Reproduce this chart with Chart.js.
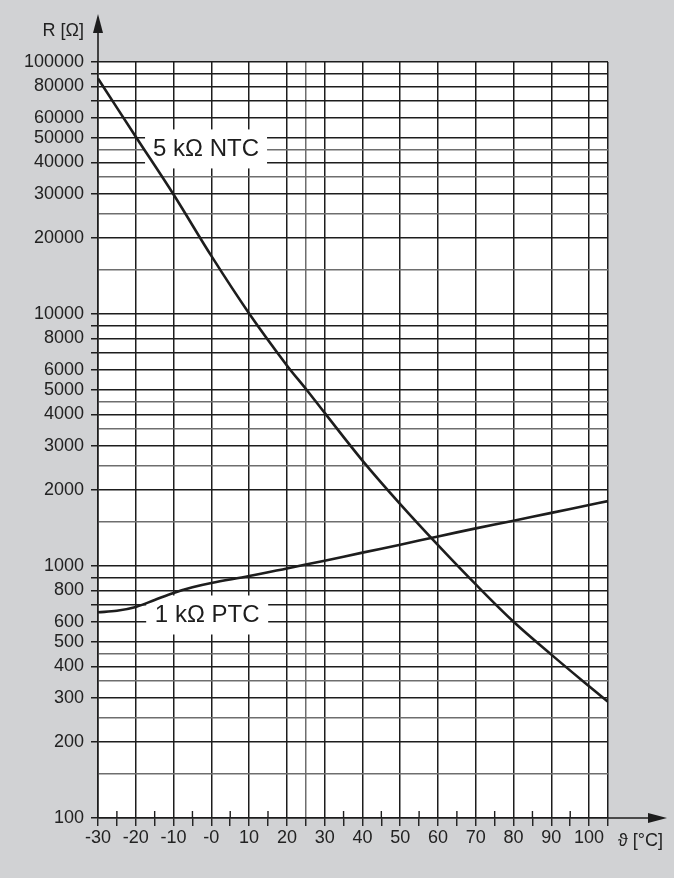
<!DOCTYPE html>
<html>
<head>
<meta charset="utf-8">
<script src="https://cdn.jsdelivr.net/npm/chart.js@4.4.1/dist/chart.umd.min.js"></script>
<style>
  html,body{margin:0;padding:0;background:#d1d2d4;}
  #wrap{width:674px;height:878px;position:relative;}
</style>
</head>
<body>
<div id="wrap"><canvas id="c" width="674" height="878"></canvas></div>
<script>
// ---- data ----
const ntcTemps = [-30, -20, -10, 0, 10, 20, 25, 30, 40, 50, 60, 70, 80, 90, 100, 105];
const ntcOhms  = [86000, 50500, 29800, 17000, 10050, 6250, 5050, 4050, 2620, 1760, 1210, 845, 601, 445, 333, 289];
const ptcTemps = [-30, -25, -20, -15, -10, -5, 0, 10, 20, 30, 40, 50, 60, 70, 80, 90, 100, 105];
const ptcOhms  = [655, 664, 688, 733, 782, 823, 856, 912, 978, 1050, 1130, 1215, 1310, 1410, 1513, 1625, 1745, 1810];
const xTickValues = [-30,-25,-20,-15,-10,-5,0,5,10,15,20,25,30,35,40,45,50,55,60,65,70,75,80,85,90,95,100,105];
const xTickLabels = {"-30":"-30","-20":"-20","-10":"-10","0":"-0","10":"10","20":"20","30":"30","40":"40","50":"50","60":"60","70":"70","80":"80","90":"90","100":"100"};
const yGridValues = [100,150,200,250,300,350,400,450,500,600,700,800,900,
                     1000,1500,2000,2500,3000,3500,4000,4500,5000,6000,7000,8000,9000,
                     10000,15000,20000,25000,30000,35000,40000,45000,50000,60000,70000,80000,90000,100000];
const yTickLabels = [100,200,300,400,500,600,800,1000,2000,3000,4000,5000,6000,8000,10000,20000,30000,40000,50000,60000,80000,100000];
const seriesNames = ["5 kΩ NTC", "1 kΩ PTC"];
const labelAnchors = [{x:-1.4, y:45400}, {x:-1.1, y:642}];
const yTitle = "R [Ω]";
const xTitle = "ϑ [°C]";

// ---- styles ----
const BG = '#d1d2d4';
const INK = '#1d1d1d';
const HALF = '#6e6e6e';
const FONT = '"Liberation Sans", Arial, sans-serif';

function isHalf(v){
  const m = v / Math.pow(10, Math.floor(Math.log10(v) + 1e-9));
  return Math.abs(m - Math.round(m)) > 0.01;
}

const decor = {
  id: 'decor',
  beforeDraw(chart){
    const {ctx, chartArea:a} = chart;
    ctx.save();
    ctx.fillStyle = BG;
    ctx.fillRect(0,0,chart.width,chart.height);
    ctx.fillStyle = '#ffffff';
    ctx.fillRect(a.left, a.top, a.right-a.left, a.bottom-a.top);
    ctx.restore();
  },
  beforeDatasetsDraw(chart){
    const {ctx} = chart;
    const xs = chart.scales.x, ys = chart.scales.y;
    ctx.save();
    seriesNames.forEach((name, i) => {
      const cx = xs.getPixelForValue(labelAnchors[i].x);
      const cy = ys.getPixelForValue(labelAnchors[i].y);
      ctx.fillStyle = '#ffffff';
      ctx.fillRect(cx - 61, cy - 19, 122, 39);
      ctx.fillStyle = INK;
      ctx.font = '24px ' + FONT;
      ctx.textAlign = 'center';
      ctx.textBaseline = 'middle';
      ctx.fillText(name, cx, cy + 1);
    });
    ctx.restore();
  },
  afterDraw(chart){
    const {ctx, chartArea:a} = chart;
    const xs = chart.scales.x;
    ctx.save();
    ctx.strokeStyle = INK; ctx.fillStyle = INK; ctx.lineWidth = 1.6;
    // y axis extension + arrow
    ctx.beginPath(); ctx.moveTo(a.left, a.top); ctx.lineTo(a.left, 30); ctx.stroke();
    ctx.beginPath(); ctx.moveTo(a.left, 14); ctx.lineTo(a.left-5, 33); ctx.lineTo(a.left+5, 33); ctx.closePath(); ctx.fill();
    // x axis extension + arrow
    ctx.beginPath(); ctx.moveTo(a.right, a.bottom); ctx.lineTo(652, a.bottom); ctx.stroke();
    ctx.beginPath(); ctx.moveTo(667, a.bottom); ctx.lineTo(648, a.bottom-5); ctx.lineTo(648, a.bottom+5); ctx.closePath(); ctx.fill();
    // minor ticks above axis at odd fives
    ctx.lineWidth = 1.4;
    xTickValues.forEach(v => {
      if (v % 10 !== 0 && v !== 25 && v !== 105) {
        const px = xs.getPixelForValue(v);
        ctx.beginPath(); ctx.moveTo(px, a.bottom - 7); ctx.lineTo(px, a.bottom); ctx.stroke();
      }
    });
    // axis titles
    ctx.font = '18px ' + FONT;
    ctx.textBaseline = 'alphabetic';
    ctx.textAlign = 'right';
    ctx.fillStyle = '#222';
    ctx.fillText(yTitle, 84, 36);
    ctx.textAlign = 'left';
    ctx.fillText(xTitle, 618, 846);
    ctx.restore();
  }
};

const ds = (t, v) => t.map((x, i) => ({x, y: v[i]}));

new Chart(document.getElementById('c'), {
  type: 'line',
  data: {
    datasets: [
      {label: seriesNames[0], data: ds(ntcTemps, ntcOhms), borderColor: INK, borderWidth: 2.6, pointRadius: 0, tension: 0.35, fill: false},
      {label: seriesNames[1], data: ds(ptcTemps, ptcOhms), borderColor: INK, borderWidth: 2.6, pointRadius: 0, tension: 0.35, fill: false}
    ]
  },
  options: {
    responsive: false,
    animation: false,
    devicePixelRatio: 1,
    layout: {padding: {top: 62, right: 66, left: 0, bottom: 0}},
    plugins: {legend: {display: false}, tooltip: {enabled: false}, title: {display: false}},
    scales: {
      x: {
        type: 'linear', min: -30, max: 105,
        afterBuildTicks: s => { s.ticks = xTickValues.map(v => ({value: v})); },
        afterFit: s => { s.height = 60; },
        ticks: {
          autoSkip: false, maxRotation: 0, padding: 1,
          color: '#222', font: {family: FONT, size: 18},
          callback: v => (xTickLabels[String(v)] !== undefined ? xTickLabels[String(v)] : '')
        },
        grid: {
          drawTicks: true, tickLength: 8, lineWidth: 1.5,
          color: c => { const v = c.tick && c.tick.value; if (v === 25) return HALF; return (v % 10 === 0 || v === 105) ? INK : 'rgba(0,0,0,0)'; },
          tickColor: INK, tickWidth: 1.4
        },
        border: {display: true, color: INK, width: 1.6}
      },
      y: {
        type: 'logarithmic', min: 100, max: 100000,
        afterBuildTicks: s => { s.ticks = yGridValues.map(v => ({value: v})); },
        afterFit: s => { s.width = 98; },
        ticks: {
          autoSkip: false, padding: 7,
          color: '#222', font: {family: FONT, size: 18},
          callback: v => (yTickLabels.includes(v) ? String(v) : '')
        },
        grid: {
          drawTicks: true, tickLength: 7, lineWidth: 1.5,
          color: c => (c.tick && isHalf(c.tick.value)) ? HALF : INK,
          tickColor: c => (c.tick && isHalf(c.tick.value)) ? 'rgba(0,0,0,0)' : INK
        },
        border: {display: true, color: INK, width: 1.6}
      }
    }
  },
  plugins: [decor]
});
</script>
</body>
</html>
